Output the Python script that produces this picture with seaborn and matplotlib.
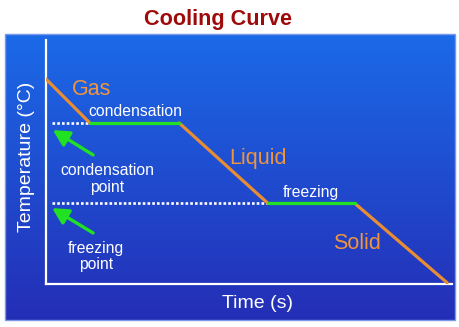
import numpy as np
import pandas as pd
import matplotlib
matplotlib.use("Agg")
import matplotlib.pyplot as plt
from matplotlib.patches import Rectangle
import seaborn as sns

# ---- data ----
time = [0.0, 1.08, 3.28, 5.47, 7.61, 9.88]
temperature = [84.0, 66.0, 66.0, 33.0, 33.0, 0.5]
segment_kind = ["cooling", "plateau", "cooling", "plateau", "cooling"]
phase_labels = ["Gas", "Liquid", "Solid"]
transition_labels = ["condensation", "freezing"]
point_labels = ["condensation\npoint", "freezing\npoint"]
title = "Cooling Curve"
xlabel = "Time (s)"
ylabel = "Temperature (°C)"

sns.set_theme(style="white")
plt.rcParams["font.family"] = ["Liberation Sans", "DejaVu Sans"]

ORANGE = "#e88d33"
ORANGE_TXT = "#f0953c"
GREEN = "#22e022"
WHITE = "#ffffff"

rows = []
for i, kind in enumerate(segment_kind):
    rows.append((time[i], temperature[i], i, kind))
    rows.append((time[i + 1], temperature[i + 1], i, kind))
df = pd.DataFrame(rows, columns=["time", "temp", "seg", "kind"])

W, H = 460, 327
fig = plt.figure(figsize=(W / 100, H / 100), dpi=100)
fig.patch.set_facecolor("white")

# blue gradient panel
px0, py0, px1, py1 = 5, 34, 455, 320
bg = fig.add_axes([px0 / W, 1 - py1 / H, (px1 - px0) / W, (py1 - py0) / H])
top = np.array([27, 106, 232]) / 255
bot = np.array([36, 46, 182]) / 255
t = np.linspace(0, 1, 256)[:, None]
grad = (top[None, :] * (1 - t) + bot[None, :] * t)[:, None, :]
bg.imshow(grad, aspect="auto", extent=[0, 1, 0, 1], interpolation="bilinear")
bg.set_axis_off()
fig.patches.append(Rectangle((px0 / W, 1 - py1 / H), (px1 - px0) / W, (py1 - py0) / H,
                             transform=fig.transFigure, fill=False,
                             edgecolor="#7d98ea", linewidth=1.0, zorder=5))

# main axes
ax0, ay0, ax1, ay1 = 46, 40, 452, 284
ax = fig.add_axes([ax0 / W, 1 - ay1 / H, (ax1 - ax0) / W, (ay1 - ay0) / H])
ax.patch.set_alpha(0)
ax.set_xlim(0, 10)
ax.set_ylim(0, 100)

# dotted reference lines at the plateau temperatures
plateau_idx = [i for i, k in enumerate(segment_kind) if k == "plateau"]
ax.hlines([temperature[i] for i in plateau_idx], 0.14, [time[i] for i in plateau_idx],
          colors=WHITE, linestyles=(0, (1, 0.8)), linewidth=1.9, zorder=2)

sns.lineplot(data=df, x="time", y="temp", hue="kind", units="seg", estimator=None,
             palette={"cooling": ORANGE, "plateau": GREEN}, linewidth=2.3,
             legend=False, sort=False, ax=ax, zorder=3)

for side in ["top", "right"]:
    ax.spines[side].set_visible(False)
for side in ["left", "bottom"]:
    ax.spines[side].set_color(WHITE)
    ax.spines[side].set_linewidth(1.6)
ax.set_xticks([])
ax.set_yticks([])

ax.set_xlabel(xlabel, color=WHITE, fontsize=14)
ax.xaxis.set_label_coords(0.521, -0.045)
ax.set_ylabel(ylabel, color=WHITE, fontsize=14)
ax.yaxis.set_label_coords(-0.027, 0.52)

# phase labels
for lab, (x, y) in zip(phase_labels, [(1.13, 79.9), (5.22, 51.6), (7.66, 16.8)]):
    ax.text(x, y, lab, color=ORANGE_TXT, fontsize=15.5, ha="center", va="center")
for lab, (x, y) in zip(transition_labels, [(2.20, 70.5), (6.53, 37.7)]):
    ax.text(x, y, lab, color=WHITE, fontsize=11.3, ha="center", va="center")
for lab, (x, y), tail, tip in zip(point_labels, [(1.50, 43.0), (1.23, 11.3)],
                                  [(1.16, 52.9), (1.16, 20.9)],
                                  [(0.17, 63.1), (0.15, 31.1)]):
    ax.text(x, y, lab, color=WHITE, fontsize=11.3, ha="center", va="center",
            linespacing=1.1)
    ax.annotate("", xy=tip, xytext=tail,
                arrowprops=dict(arrowstyle="-|>,head_length=0.8,head_width=0.42",
                                color=GREEN, lw=2.4, shrinkA=0, shrinkB=0))

fig.text(218 / W, 1 - 20 / H, title, color="#9e0a0a", fontsize=15.6,
         fontweight="bold", ha="center", va="center")

fig.savefig("out.png", dpi=100)
